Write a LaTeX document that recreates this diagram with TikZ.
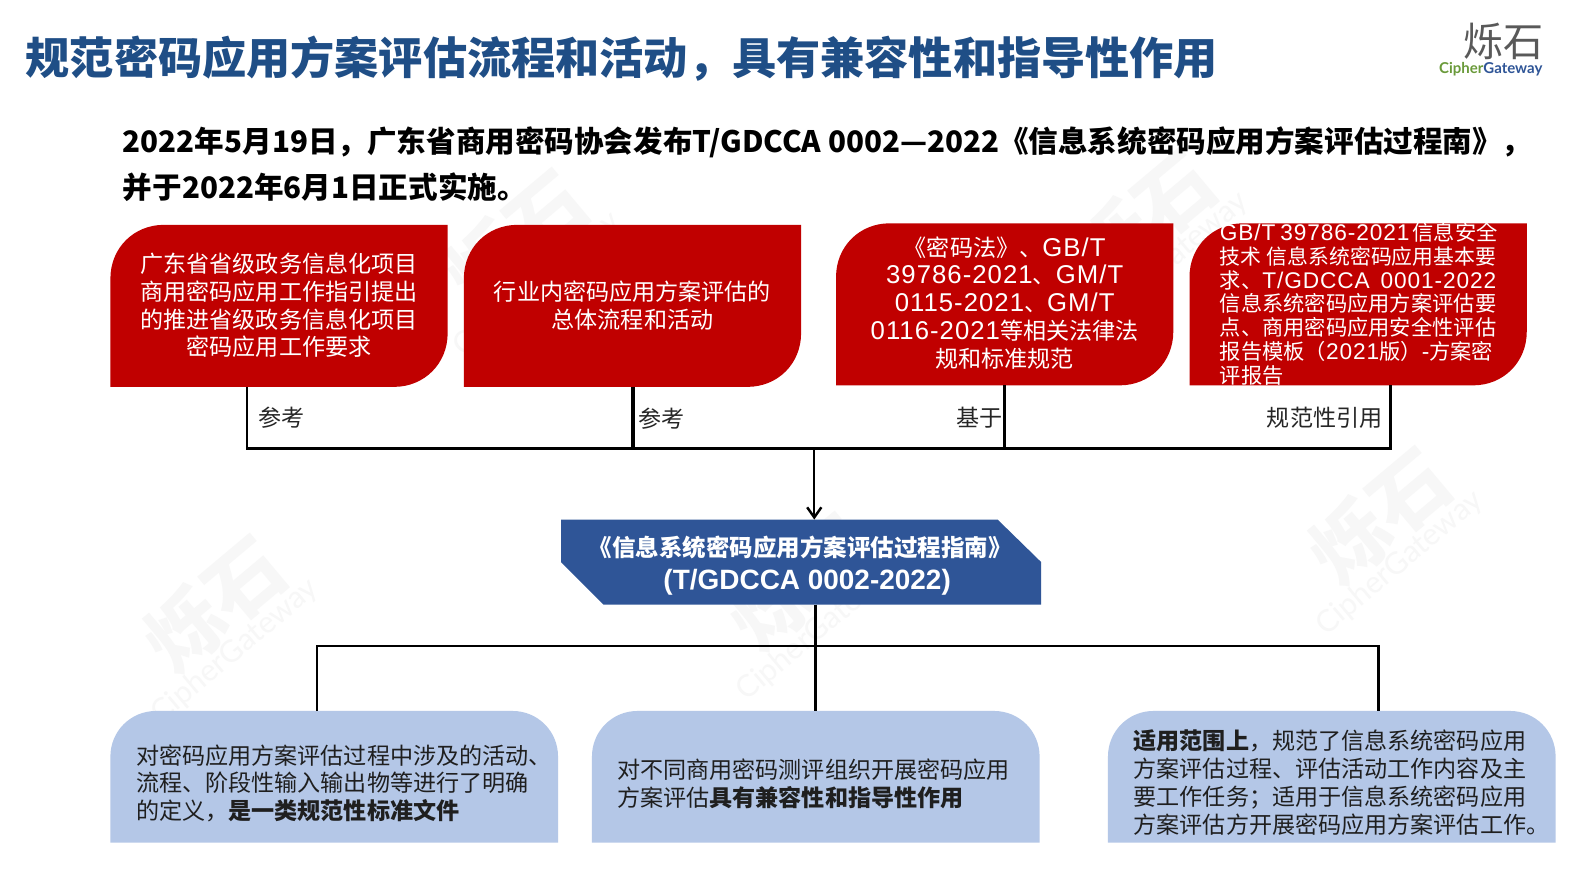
\documentclass[tikz,border=0pt]{standalone}
\usepackage{fontspec}
\setmainfont{Noto Sans CJK SC}
\newfontfamily\lat{Liberation Sans}
\newfontfamily\latsp[LetterSpace=4]{Liberation Sans}
\newfontfamily\logofont{Lato}
\usetikzlibrary{calc,arrows.meta}
\definecolor{redbox}{HTML}{C00000}
\definecolor{bluebox}{HTML}{B4C7E7}
\definecolor{navy}{HTML}{2F5597}
\definecolor{titleblue}{HTML}{1F4E86}
\definecolor{wm}{HTML}{F7F7F7}
\definecolor{logogreen}{HTML}{6A9A3A}
\newcommand{\fz}[2]{\fontsize{#1pt}{#2pt}\selectfont}
\newcommand{\latA}[1]{{\latsp\fontsize{12.7pt}{13.75pt}\selectfont #1}}
\newcommand{\latB}[1]{{\latsp\fontsize{11.2pt}{11.75pt}\selectfont #1}}
\newcommand{\wmark}[3]{%
  \node[rotate=40,text=wm,font=\bfseries\fz{38}{38}] (#1a) at (#2,#3) {烁石};
  \node[rotate=40,text=wm,font=\logofont\fz{15}{15}] (#1b) at ($(#2,#3)+(20,46)$) {CipherGateway};
}
\newcommand{\diagfill}[1]{%
  \fill[redbox] ($(#1.south west)$) -- ($(#1.north west)+(0,53)$)
    .. controls ($(#1.north west)+(0,23)$) and ($(#1.north west)+(23,0)$) .. ($(#1.north west)+(53,0)$)
    -- (#1.north east) -- ($(#1.south east)+(0,-53)$)
    .. controls ($(#1.south east)+(0,-23)$) and ($(#1.south east)+(-23,0)$) .. ($(#1.south east)+(-53,0)$)
    -- cycle;
}
\newcommand{\topfill}[1]{%
  \fill[bluebox] (#1.south west) -- ($(#1.north west)+(0,45)$)
    .. controls ($(#1.north west)+(0,20)$) and ($(#1.north west)+(20,0)$) .. ($(#1.north west)+(45,0)$)
    -- ($(#1.north east)+(-45,0)$)
    .. controls ($(#1.north east)+(-20,0)$) and ($(#1.north east)+(0,20)$) .. ($(#1.north east)+(0,45)$)
    -- (#1.south east) -- cycle;
}
\tikzset{
  redshape/.style={rectangle,inner sep=0pt,outer sep=0pt,minimum width=166.5pt,minimum height=80pt},
  blueshape/.style={rectangle,inner sep=0pt,outer sep=0pt,minimum width=221pt,minimum height=65pt},
  redtext/.style={text=white,align=center,inner sep=0pt,font=\fz{11.4}{13.75}},
  bluetext/.style={text=black!88,align=left,anchor=west,inner sep=0pt,font=\fz{11.4}{13.75}},
  edgelabel/.style={text=black!85,inner sep=0pt,font=\fz{11.4}{13}},
  conn/.style={draw=black,line width=1.2pt},
  connthick/.style={draw=black,line width=1.7pt},
}
\begin{document}
\begin{tikzpicture}[x=0.5pt,y=-0.5pt]
\useasboundingbox (0,0) rectangle (1567,881);
\fill[white] (0,0) rectangle (1567,881);
% watermarks
\wmark{wa}{212}{597}
\wmark{wb}{510}{235}
\wmark{wc}{1130}{215}
\wmark{wd}{1362}{510}
\wmark{we}{790}{575}
% title
\node[anchor=west,inner sep=0pt,text=titleblue,font=\bfseries\fz{21.8}{24}] (title) at (25,58) {规范密码应用方案评估流程和活动，具有兼容性和指导性作用};
\node[anchor=west,inner sep=0pt,text=black,align=left,font=\bfseries\fz{14.6}{23}] (sub) at (121,162) {2022年5月19日，广东省商用密码协会发布T/GDCCA 0002—2022《信息系统密码应用方案评估过程南》，\\并于2022年6月1日正式实施。};
% logo
\node[inner sep=0pt,text=black!65,font=\fz{19.8}{20}] (logoa) at (1485,41) {烁石};
\node[inner sep=0pt,font=\logofont\bfseries\fz{7.4}{8}] (logob) at (1472,68) {\textcolor{logogreen}{Cipher}\textcolor{navy}{Gateway}};
% red boxes
\node[redshape] (r1) at (275.5,302) {};
\node[redshape] (r2) at (624.5,302) {};
\node[redshape] (r3) at (992,300.5) {};
\node[redshape] (r4) at (1341,300.5) {};
\diagfill{r1}\diagfill{r2}\diagfill{r3}\diagfill{r4}
\node[redtext] (r1t) at (275.5,301.5) {广东省省级政务信息化项目\\商用密码应用工作指引提出\\的推进省级政务信息化项目\\密码应用工作要求};
\node[redtext] (r2t) at (624.5,301.5) {行业内密码应用方案评估的\\总体流程和活动};
\node[redtext] (r3t) at (992,299) {《密码法》、\latA{GB/T}\\\latA{39786-2021}、\latA{GM/T}\\\latA{0115-2021}、\latA{GM/T}\\\latA{0116-2021}等相关法律法\\规和标准规范};
\node[text=white,inner sep=0pt,anchor=west,font=\fz{10.5}{11.75}] (r4t) at (1204,300) {\parbox{136.5pt}{\fz{10.5}{11.75}%
\makebox[136.5pt][s]{\latB{GB/T 39786-2021} 信息安全}\\
\makebox[136.5pt][s]{\fz{10.3}{11.75}技术 信息系统密码应用基本要}\\
\makebox[136.5pt][s]{求、\latB{T/GDCCA 0001-2022}}\\
信息系统密码应用方案评估要\\
点、商用密码应用安全性评估\\
报告模板（\latB{2021}版）\latB{-}方案密\\
评报告}};
% center box
\coordinate (c1) at (554,513);
\coordinate (c2) at (985,513);
\coordinate (c3) at (1028,555);
\coordinate (c4) at (1028,597);
\coordinate (c5) at (596,597);
\coordinate (c6) at (554,555);
\fill[navy] (c1) -- (c2) -- (c3) -- (c4) -- (c5) -- (c6) -- cycle;
\node[inner sep=0pt,outer sep=0pt,minimum width=237pt,minimum height=42pt] (main) at (791,555) {};
\node[text=white,inner sep=0pt,font=\bfseries\fz{11.6}{13}] (mt1) at (790,541) {《信息系统密码应用方案评估过程指南》};
\node[text=white,inner sep=0pt,font=\lat\bfseries\fz{13.8}{15}] (mt2) at (797,575) {(T/GDCCA 0002-2022)};
% blue boxes
\node[blueshape] (b1) at (330,767) {};
\node[blueshape] (b2) at (805.5,767) {};
\node[blueshape] (b3) at (1315,767) {};
\topfill{b1}\topfill{b2}\topfill{b3}
\node[bluetext] (b1t) at (134,773.5) {对密码应用方案评估过程中涉及的活动、\\流程、阶段性输入输出物等进行了明确\\的定义，\textbf{是一类规范性标准文件}};
\node[bluetext] (b2t) at (609,774) {对不同商用密码测评组织开展密码应用\\方案评估\textbf{具有兼容性和指导性作用}};
\node[bluetext] (b3t) at (1119,772.5) {\textbf{适用范围上}，规范了信息系统密码应用\\方案评估过程、评估活动工作内容及主\\要工作任务；适用于信息系统密码应用\\方案评估方开展密码应用方案评估工作。};
% connectors upper
\coordinate (u1) at (244,443);
\coordinate (u2) at (625,443);
\coordinate (u3) at (992,443);
\coordinate (u4) at (1373,443);
\coordinate (um) at (804,443);
\draw[conn,line join=miter] (u1 |- r1.south) -- (u1) -- (u4) -- (u4 |- r4.south);
\draw[connthick] (u2 |- r2.south) -- (u2);
\draw[connthick] (u3 |- r3.south) -- (u3);
\draw[conn,-{Straight Barb[length=5pt,width=7pt]}] (um) -- (um |- main.north);
% connectors lower
\coordinate (l1) at (313,638);
\coordinate (l2) at (805,638);
\coordinate (l3) at (1361,638);
\draw[conn,line join=miter] (l1 |- b1.north) -- (l1) -- (l3) -- (l3 |- b3.north);
\draw[connthick] (l2 |- main.south) -- (l2 |- b2.north);
% labels
\node[edgelabel] (la) at (278,412) {参考};
\node[edgelabel] (lb) at (653,413) {参考};
\node[edgelabel] (lc) at (967,412.5) {基于};
\node[edgelabel] (ld) at (1308,412.5) {规范性引用};
\end{tikzpicture}
\end{document}
